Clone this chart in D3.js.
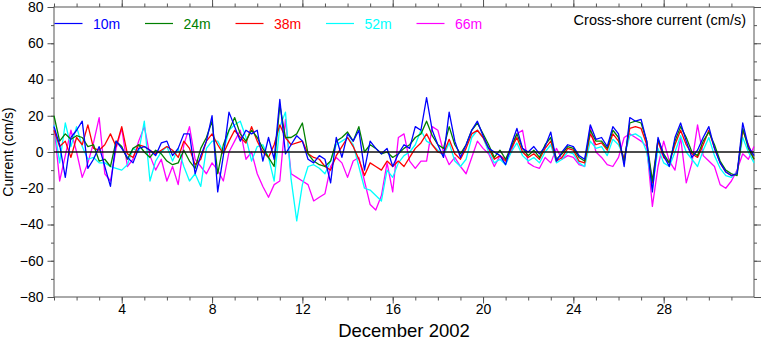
<!DOCTYPE html>
<html><head><meta charset="utf-8">
<script src="https://cdn.jsdelivr.net/npm/d3@7/dist/d3.min.js"></script>
<style>
body{margin:0;background:#fff}
svg text{font-family:"Liberation Sans",Arial,Helvetica,sans-serif}
</style>
</head><body>
<svg id="chart" width="762" height="342"></svg>
<script>
// ---- data: one value every 6 hours from 1 Dec 2002 00:00 to 1 Jan 2003 00:00 (cm/s)
const startYear = 2002, startMonth = 11, stepHours = 6;
const depths = ["10m", "24m", "38m", "52m", "66m"];
const seriesColors = ["#0000ff", "#008000", "#ff0000", "#00ffff", "#ff00ff"];

const v10m = [
 14, 4, -14, 8,   12, 17, -9, -4,   3, -8, -19, 6,   2, -3, -6, 2,   3, 1, -2, 5,
 6, -2, 2, 10,    10, -12, -2, 6,   20, -22, -2, 22, 14, 6, 12, 10,  12, -5, 8, -4,
 29, -1, 4, 9,    6, -4, -6, -2,    -4, -17, 8, -3,  10, 6, 12, -10, 6, 2, -1, 2,
 -8, -1, 4, 2,    14, 12, 30, 12,   4, -3, 22, 6,    -3, 4, 12, 17,  9, 2, 0, -2,
 -7, 4, 13, 2,    0, 3, -1, 3,      11, -5, 0, 4,    3, -2, -4, 15,  7, 8, 3, 14,
 10, -8, 19, 17,  18, 6, -22, 8,    -2, -8, 8, 16,   6, -3, 1, 8,    14, 2, -6, -11,
 -13, -12, 16, 3, -2];
const v24m = [
 20, 6, 10, 7,    9, 8, 3, 4,       -5, -4, -8, 6,   3, -4, 2, 4,    0, -3, 1, -1,
 -5, -7, -6, 1,   -5, -9, 2, 8,     17, -12, 4, 12,  19, 10, 6, 12,  8, 2, -3, -8,
 26, 8, 8, 10,    16, -1, -5, -7,   -8, -5, 6, 8,    11, 6, 14, 0,   4, 2, -1, 0,
 -3, -1, 2, 4,    8, 10, 17, 9,     4, 2, 14, 4,     -1, 4, 12, 16,  10, 4, -3, 1,
 -4, 3, 10, 2,    -2, 1, -3, 4,     8, -4, -1, 3,    2, -3, -5, 12,  6, 6, 2, 12,
 8, -6, 16, 17,   16, 6, -16, 7,    -1, -6, 6, 14,   8, 0, -2, 6,    11, 4, -5, -10,
 -12, -13, 13, 2, -4];
const v38m = [
 12, 3, 6, -3,    8, 4, 15, 2,      1, 4, 10, 3,     14, -1, -3, 4,  3, 1, -1, 1,
 3, 1, -3, 6,     2, -7, -4, 6,     10, 4, -1, 6,    12, 8, 5, 14,   6, 0, -3, 4,
 15, 8, 4, 5,     6, -1, -3, -4,    -8, -10, -2, 3,  8, 3, -4, -13,  -6, -8, -10, -5,
 -8, -5, -8, -3,  2, 5, 10, 4,      0, -1, 7, -1,    -4, 2, 10, 12,  8, 2, -4, -2,
 -5, 2, 8, 0,     -3, -1, -4, 2,    6, -5, -3, 2,    1, -5, -6, 10,  4, 5, 1, 10,
 6, -4, 13, 14,   13, 4, -17, 6,    -3, -6, 4, 12,   4, -1, -3, 4,   12, 2, -6, -11,
 -13, -12, 12, 4, -4];
const v52m = [
 15, -6, 16, 3,   14, 3, -4, -3,    -6, -6, -8, -9,  -10, -7, 2, 0, 17, -16, -5, 0,
 3, -5, 2, -8,    -16, -12, -19, 2, 6, 6, 0, 12,     15, 17, 8, -5,  3, 4, -3, -16,
 14, 22, -15, -38, -18, -8, -7, -9, -12, -5, 4, 6,   8, 4, -8, -20,  -21, -24, -27, -10,
 -14, -6, -2, 0,  4, 12, 6, 4,      1, -2, 5, -5,    -8, -4, 8, 12,  8, 0, -6, -4,
 -7, 0, 5, -2,    -5, -3, -6, 0,    4, -6, -4, 0,    -1, -6, -8, 6,  2, 3, -2, 7,
 4, -3, 9, 10,    8, 0, -20, 2,     -6, -8, 0, 9,    0, -4, -8, 1,   8, -2, -9, -13,
 -14, -11, 8, 0,  -6];
const v66m = [
 15, -16, -2, 12, 0, -14, -6, 5,    19, -12, -16, 2, 13, -8, -4, 6,  14, -2, -10, -4,
 -16, -8, -18, 4, 14, -4, -8, -12,  -6, -10, -16, 0, 6, 12, -4, 0,   -12, -19, -25, -18,
 -16, 18, -12, -14, -16, -18, -27, -25, -23, -8, -3, -6, -14, -5, -3, -16, -29, -32, -24, -6,
 -22, 8, 10, -5,  -9, -5, -5, 14,   12, 0, -7, -3,   -8, -12, -3, 6, 2, -1, -8, -2,
 -4, 0, 10, 12,   -6, -8, -9, -3,   -6, 2, -4, -2,   -3, -7, -8, 14, 0, -3, -7, -8,
 -3, 8, 10, 8,    6, 3, -30, -8,    6, -5, -10, 8,   -17, -6, 15, -2, -5, -8, -18, -20,
 -16, -10, -1, -4, 3];
const seriesValues = [v10m, v24m, v38m, v52m, v66m];

const xMajorDays = [4, 8, 12, 16, 20, 24, 28];
const xMinorDays = d3.range(1, 32);
const yMajorTicks = [-80, -60, -40, -20, 0, 20, 40, 60, 80];
const yMinorTicks = d3.range(-80, 81, 10);
const titleText = "Cross-shore current (cm/s)";
const yLabelText = "Current (cm/s)";
const xLabelText = "December 2002";

// ---- layout
const L = 54, R = 754, T = 7, B = 297;
const axisColor = "#555";
const svg = d3.select("#chart");
const day = d => new Date(Date.UTC(startYear, startMonth, d));

const x = d3.scaleUtc().domain([day(1), new Date(Date.UTC(startYear + 1, 0, 1))]).range([L, R]);
const y = d3.scaleLinear().domain([-80, 80]).range([B, T]);

// frame
svg.append("rect").attr("x", L).attr("y", T).attr("width", R - L).attr("height", B - T)
  .attr("fill", "none").attr("stroke", axisColor).attr("stroke-width", 1);

function styleAxis(g) {
  g.select(".domain").remove();
  g.selectAll(".tick line").attr("stroke", axisColor).attr("stroke-width", 1);
  g.selectAll(".tick text").attr("fill", "#000").attr("font-size", 14)
   .attr("font-family", '"Liberation Sans",Arial,sans-serif');
}

// x axes
svg.append("g").attr("transform", `translate(0,${B})`)
  .call(d3.axisBottom(x).tickValues(xMinorDays.map(day)).tickSize(3.5).tickFormat(""))
  .call(styleAxis);
svg.append("g").attr("transform", `translate(0,${B})`)
  .call(d3.axisBottom(x).tickValues(xMajorDays.map(day)).tickSize(6.5).tickPadding(1)
  .tickFormat(d => d.getUTCDate()))
  .call(styleAxis);
svg.append("g").attr("transform", `translate(0,${T})`)
  .call(d3.axisTop(x).tickValues(xMinorDays.map(day)).tickSize(3.5).tickFormat(""))
  .call(styleAxis);
svg.append("g").attr("transform", `translate(0,${T})`)
  .call(d3.axisTop(x).tickValues(xMajorDays.map(day)).tickSize(7).tickFormat(""))
  .call(styleAxis);

// y axes
svg.append("g").attr("transform", `translate(${L},0)`)
  .call(d3.axisLeft(y).tickValues(yMinorTicks).tickSize(3).tickFormat(""))
  .call(styleAxis);
svg.append("g").attr("transform", `translate(${L},0)`)
  .call(d3.axisLeft(y).tickValues(yMajorTicks).tickSize(6.5).tickPadding(4).tickFormat(d3.format("d")))
  .call(styleAxis);
svg.append("g").attr("transform", `translate(${R},0)`)
  .call(d3.axisRight(y).tickValues(yMinorTicks).tickSize(3).tickFormat(""))
  .call(styleAxis);
svg.append("g").attr("transform", `translate(${R},0)`)
  .call(d3.axisRight(y).tickValues(yMajorTicks).tickSize(7).tickFormat(""))
  .call(styleAxis);

// data lines (deepest first so 10m ends on top)
const timeOf = i => new Date(Date.UTC(startYear, startMonth, 1) + i * stepHours * 3600e3);
const line = d3.line().x((v, i) => x(timeOf(i))).y(v => y(v));
const plot = svg.append("g");
for (let s = seriesValues.length - 1; s >= 0; s--) {
  plot.append("path").datum(seriesValues[s])
    .attr("d", line).attr("fill", "none")
    .attr("stroke", seriesColors[s]).attr("stroke-width", 1.3)
    .attr("stroke-linejoin", "round");
}

// zero line
svg.append("line").attr("x1", L).attr("x2", R).attr("y1", y(0)).attr("y2", y(0))
  .attr("stroke", "#111").attr("stroke-width", 1.4);

// legend
const legendY = 23.5;
const lg = svg.append("g");
depths.forEach((name, i) => {
  const x0 = L + 0.5 + i * 90.5;
  lg.append("line").attr("x1", x0).attr("x2", x0 + 28).attr("y1", legendY).attr("y2", legendY)
    .attr("stroke", seriesColors[i]).attr("stroke-width", 1.2);
  lg.append("text").attr("x", x0 + 38.5).attr("y", legendY + 5.5)
    .attr("font-size", 14).attr("fill", seriesColors[i]).text(name);
});

// title & labels
svg.append("text").attr("x", 746).attr("y", 25).attr("text-anchor", "end")
  .attr("font-size", 14.5).attr("fill", "#000").text(titleText);
svg.append("text").attr("transform", `translate(13,${(T + B) / 2}) rotate(-90)`)
  .attr("text-anchor", "middle").attr("font-size", 14).attr("fill", "#000").text(yLabelText);
svg.append("text").attr("x", (L + R) / 2).attr("y", 337).attr("text-anchor", "middle")
  .attr("font-size", 18.5).attr("fill", "#000").text(xLabelText);
</script>
</body></html>
